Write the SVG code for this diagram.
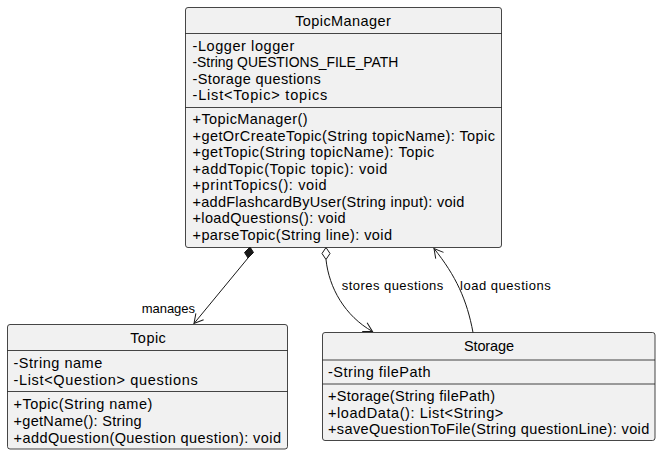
<svg xmlns="http://www.w3.org/2000/svg" width="661" height="455" viewBox="0 0 661 455">
<style>
.box{fill:#F1F1F1;stroke:#181818;stroke-width:0.8}
.sep{stroke:#181818;stroke-width:0.8}
text{font-family:"Liberation Sans",Arial,sans-serif;fill:#000}
.t{font-size:14.5px;text-anchor:middle}
.m{font-size:14.5px}
.l{font-size:13px}
.edge{fill:none;stroke:#181818;stroke-width:1}
</style>
<defs>
<marker id="arr" markerUnits="userSpaceOnUse" markerWidth="14" markerHeight="14" refX="10" refY="6" orient="auto" viewBox="0 0 14 12">
<path d="M1,1 L10,6 L1,11" fill="none" stroke="#181818" stroke-width="1"/>
</marker>
</defs>
<rect width="661" height="455" fill="#FFFFFF"/>
<g id="TopicManager">
<rect class="box" x="185.5" y="7.5" width="316" height="240" rx="2.5"/>
<line class="sep" x1="185.5" y1="33.5" x2="501.5" y2="33.5"/>
<line class="sep" x1="185.5" y1="107.5" x2="501.5" y2="107.5"/>
<text class="t" x="343" y="26" textLength="95.7">TopicManager</text>
<text class="m" x="192.5" y="50.5" textLength="101.8">-Logger logger</text>
<text class="m" x="192.5" y="67" textLength="205.8" style="font-size:13.9px">-String QUESTIONS_FILE_PATH</text>
<text class="m" x="192.5" y="83.5" textLength="128.2">-Storage questions</text>
<text class="m" x="192.5" y="100" textLength="134.8">-List&lt;Topic&gt; topics</text>
<text class="m" x="192.5" y="124" textLength="115.2">+TopicManager()</text>
<text class="m" x="192.5" y="140.5" textLength="302.5">+getOrCreateTopic(String topicName): Topic</text>
<text class="m" x="192.5" y="157" textLength="241.8">+getTopic(String topicName): Topic</text>
<text class="m" x="192.5" y="173.5" textLength="194.8">+addTopic(Topic topic): void</text>
<text class="m" x="192.5" y="190" textLength="134.2">+printTopics(): void</text>
<text class="m" x="192.5" y="206.5" textLength="271.8">+addFlashcardByUser(String input): void</text>
<text class="m" x="192.5" y="223" textLength="153.2">+loadQuestions(): void</text>
<text class="m" x="192.5" y="240" textLength="199.5">+parseTopic(String line): void</text>
</g>
<g id="Topic">
<rect class="box" x="7.5" y="324.5" width="280" height="124.5" rx="2.5"/>
<line class="sep" x1="7.5" y1="350.5" x2="287.5" y2="350.5"/>
<line class="sep" x1="7.5" y1="391.5" x2="287.5" y2="391.5"/>
<text class="t" x="148" y="343" textLength="35.7">Topic</text>
<text class="m" x="13.5" y="368" textLength="88.8">-String name</text>
<text class="m" x="13.5" y="385" textLength="184.2">-List&lt;Question&gt; questions</text>
<text class="m" x="13.5" y="408.5" textLength="138.8">+Topic(String name)</text>
<text class="m" x="13.5" y="425.5" textLength="128.2">+getName(): String</text>
<text class="m" x="13.5" y="442.5" textLength="267.5">+addQuestion(Question question): void</text>
</g>
<g id="Storage">
<rect class="box" x="322.5" y="332.5" width="332.5" height="108" rx="2.5"/>
<line class="sep" x1="322.5" y1="360" x2="655" y2="360"/>
<line class="sep" x1="322.5" y1="384" x2="655" y2="384"/>
<text class="t" x="489" y="351" textLength="50">Storage</text>
<text class="m" x="328" y="376.5" textLength="102.7">-String filePath</text>
<text class="m" x="328" y="400.5" textLength="167">+Storage(String filePath)</text>
<text class="m" x="328" y="417.5" textLength="175.3">+loadData(): List&lt;String&gt;</text>
<text class="m" x="328" y="434" textLength="321.3">+saveQuestionToFile(String questionLine): void</text>
</g>
<g id="connectors">
<polygon points="250,247 253.5,252.5 248,258 244.5,252.5" fill="#181818" stroke="#181818" stroke-width="1"/>
<line class="edge" x1="248" y1="258" x2="194" y2="323.5" marker-end="url(#arr)"/>
<text class="l" x="141.7" y="313" textLength="53.3">manages</text>
<polygon points="326,247.5 330,253.5 326,259.5 322,253.5" fill="#FFFFFF" stroke="#181818" stroke-width="1"/>
<path class="edge" d="M326,259.5 C329,288 345,316 372.5,331.5" marker-end="url(#arr)"/>
<text class="l" x="341.7" y="290" textLength="101.6">stores questions</text>
<path class="edge" d="M473,332.5 C467,300 456,276 434,248.5" marker-end="url(#arr)"/>
<text class="l" x="460" y="290" textLength="90.7">load questions</text>
</g>
</svg>
